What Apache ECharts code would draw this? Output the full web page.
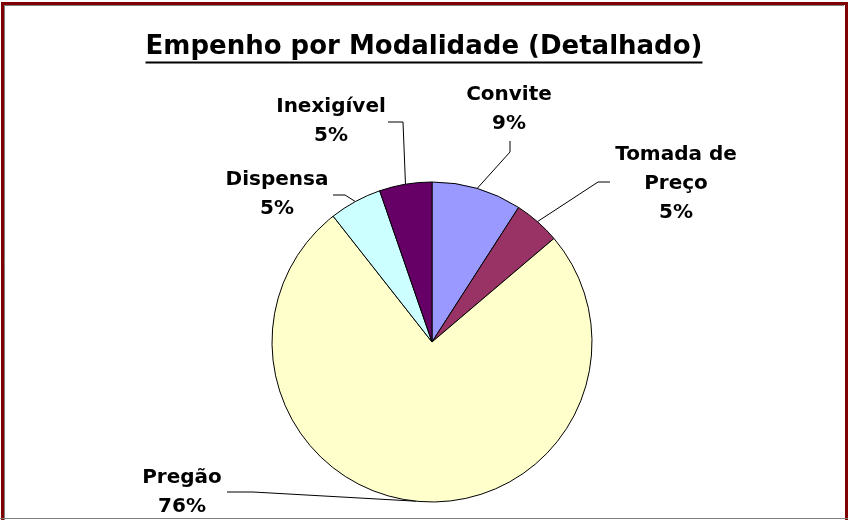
<!DOCTYPE html>
<html><head><meta charset="utf-8">
<script src="https://cdn.jsdelivr.net/npm/echarts@6/dist/echarts.min.js"></script>
<style>html,body{margin:0;padding:0;background:#fff}#c{width:848px;height:520px}</style>
</head><body><div id="c"></div>
<script>
// ---- data ----
const categories = ['Convite', 'Tomada de Preço', 'Pregão', 'Dispensa', 'Inexigível'];
const values = [9.1, 4.7, 75.6, 5.3, 5.3];
const colors = ['#9999FF', '#993366', '#FFFFCC', '#CCFFFF', '#660066'];
const titleText = 'Empenho por Modalidade (Detalhado)';

// ---- label layout (positions only) ----
const labelPos = [[509, 109], [676, 184], [182, 492], [277, 194], [331, 121]];
const leaderTail = [
  [[510, 152], [510, 141]],
  [[598, 182], [610, 182]],
  [[253, 492], [227, 492]],
  [[345, 195], [333, 195]],
  [[403, 122], [388, 122]]
];

const FONT = '"DejaVu Sans", Verdana, sans-serif';
const center = [432, 342];
const radius = 160;

const mctx = document.createElement('canvas').getContext('2d');
mctx.font = 'bold 26px "DejaVu Sans"';
const titleW = mctx.measureText(titleText).width;

const chart = echarts.init(document.getElementById('c'), null, {renderer: 'canvas'});
const total = values.reduce((a, b) => a + b, 0);
function edgePoint(i) {
  let before = 0;
  for (let k = 0; k < i; k++) before += values[k];
  const mid = (before + values[i] / 2) / total * 2 * Math.PI;
  return [center[0] + radius * Math.sin(mid), center[1] - radius * Math.cos(mid)];
}

chart.setOption({
  backgroundColor: '#fff',
  animation: false,
  title: {
    text: titleText, left: 'center', top: 34, padding: 0,
    textStyle: {fontFamily: FONT, fontWeight: 'bold', fontSize: 26, color: '#000'}
  },
  graphic: [
    {type: 'line', shape: {x1: 424 - titleW / 2, y1: 62.5, x2: 424 + titleW / 2, y2: 62.5}, style: {stroke: '#000', lineWidth: 2}},
    {type: 'rect', shape: {x: 2.5, y: 3.5, width: 844, height: 600}, style: {fill: null, stroke: '#800000', lineWidth: 3}},
    {type: 'line', shape: {x1: 4, y1: 5.5, x2: 844, y2: 5.5}, style: {stroke: '#808080', lineWidth: 1}},
    {type: 'line', shape: {x1: 4.5, y1: 5, x2: 4.5, y2: 520}, style: {stroke: '#808080', lineWidth: 1}},
    {type: 'line', shape: {x1: 0, y1: 518.5, x2: 848, y2: 518.5}, style: {stroke: '#808080', lineWidth: 1}}
  ],
  series: [{
    type: 'pie',
    center: center,
    radius: radius,
    startAngle: 90,
    clockwise: true,
    avoidLabelOverlap: false,
    silent: true,
    emphasis: {disabled: true},
    data: categories.map((c, i) => ({name: c, value: values[i], itemStyle: {color: colors[i]}})),
    itemStyle: {borderColor: '#000', borderWidth: 1},
    label: {
      show: true,
      fontFamily: FONT, fontWeight: 'bold', fontSize: 20, lineHeight: 29, color: '#000',
      formatter: p => p.name.replace(' de ', ' de\n') + '\n' + Math.round(p.percent) + '%'
    },
    labelLine: {show: true, length: 10, length2: 10, lineStyle: {color: '#000', width: 1}},
    labelLayout: function (params) {
      const i = params.dataIndex;
      const e = edgePoint(i);
      return {
        x: labelPos[i][0], y: labelPos[i][1], align: 'center', verticalAlign: 'middle',
        labelLinePoints: [e, leaderTail[i][0], leaderTail[i][1]]
      };
    }
  }]
});
</script>
</body></html>
